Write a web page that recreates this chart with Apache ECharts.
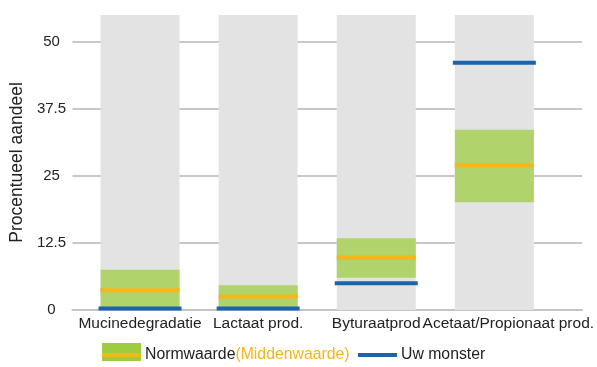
<!DOCTYPE html>
<html>
<head>
<meta charset="utf-8">
<script src="https://cdn.jsdelivr.net/npm/echarts@6/dist/echarts.min.js"></script>
<style>
  html, body { margin: 0; padding: 0; background: #ffffff; }
  #chart { width: 597px; height: 367px; }
</style>
</head>
<body>
<div id="chart"></div>
<script>
// Fermentation profile: reference range (norm), its midpoint, and the sample value per pathway
const categories = ['Mucinedegradatie', 'Lactaat prod.', 'Byturaatprod', 'Acetaat/Propionaat prod.'];
const normLow = [0, 0, 6, 20.1];
const normHigh = [7.5, 4.6, 13.4, 33.6];
const normMid = [3.7, 2.5, 9.8, 27];
const sampleValues = [0.3, 0.3, 5, 46.1];
const axisMax = 55;
const yInterval = 12.5;

const FONT = 'Liberation Sans, Arial, Helvetica, sans-serif';
const GRAY_BAR = '#e3e3e3';
const GREEN = '#b0d36b';
const ORANGE = '#f4b619';
const BLUE = '#1a64ad';

const backgroundCols = categories.map(() => axisMax);
const normSpan = normHigh.map((h, i) => +(h - normLow[i]).toFixed(2));

const chart = echarts.init(document.getElementById('chart'), null, { renderer: 'canvas' });

chart.setOption({
  animation: false,
  backgroundColor: '#ffffff',
  grid: [
    { left: 68, right: 15, top: 15, bottom: 57 },
    { left: 81, right: 43, top: 15, bottom: 57 }
  ],
  xAxis: [
    {
      gridIndex: 0, type: 'value', min: 0, max: 1,
      axisLine: { show: true, onZero: false, lineStyle: { color: '#c4c4c4', width: 2 } },
      axisTick: { show: false }, axisLabel: { show: false }, splitLine: { show: false }
    },
    {
      gridIndex: 1, type: 'category', data: categories.map((c, i) => i === 3
        ? { value: c, textStyle: { padding: [0, 0, 0, 28] } } : c),
      axisLine: { show: false }, axisTick: { show: false },
      axisLabel: {
        interval: 0, hideOverlap: false, margin: 6,
        fontFamily: FONT, fontSize: 15.5, color: '#222222'
      }
    }
  ],
  yAxis: [
    {
      gridIndex: 0, type: 'value', min: 0, max: axisMax, interval: yInterval,
      name: 'Procentueel aandeel', nameLocation: 'middle', nameGap: 45,
      nameTextStyle: { fontFamily: FONT, fontSize: 17.5, color: '#222222' },
      axisLine: { show: false }, axisTick: { show: false },
      axisLabel: {
        align: 'center', margin: 21, showMaxLabel: false,
        fontFamily: FONT, fontSize: 15, color: '#222222'
      },
      splitLine: { show: true, showMinLine: false, showMaxLine: false,
        lineStyle: { color: '#c8c8c8', width: 2 } }
    },
    { gridIndex: 1, type: 'value', min: 0, max: axisMax, show: false }
  ],
  series: [
    {
      name: 'achtergrond', type: 'bar', xAxisIndex: 1, yAxisIndex: 1,
      data: backgroundCols, barWidth: 79, barGap: '-100%', silent: true,
      itemStyle: { color: GRAY_BAR }
    },
    {
      name: 'normBasis', type: 'bar', stack: 'norm', xAxisIndex: 1, yAxisIndex: 1,
      data: normLow, barWidth: 79, barGap: '-100%', silent: true,
      itemStyle: { color: 'rgba(0,0,0,0)' }
    },
    {
      name: 'Normwaarde', type: 'bar', stack: 'norm', xAxisIndex: 1, yAxisIndex: 1,
      data: normSpan, barWidth: 79, barGap: '-100%', silent: true,
      itemStyle: { color: GREEN }
    },
    {
      name: 'Middenwaarde', type: 'scatter', xAxisIndex: 1, yAxisIndex: 1,
      data: normMid, symbol: 'rect', symbolSize: [79, 4], silent: true,
      itemStyle: { color: ORANGE, opacity: 1 }, z: 3
    },
    {
      name: 'Uw monster', type: 'scatter', xAxisIndex: 1, yAxisIndex: 1,
      data: sampleValues, symbol: 'rect', symbolSize: [83, 4], silent: true,
      itemStyle: { color: BLUE, opacity: 1 }, z: 4
    }
  ],
  graphic: [
    // legend: norm range swatch with midpoint stripe
    { type: 'rect', left: 102, top: 343, shape: { width: 39, height: 18 }, style: { fill: '#9fcc3e' } },
    { type: 'rect', left: 102, top: 353, shape: { width: 39, height: 4 }, style: { fill: ORANGE } },
    {
      type: 'text', left: 145, top: 347,
      style: {
        text: '{a|Normwaarde}{b|(Middenwaarde)}',
        rich: {
          a: { fontFamily: FONT, fontSize: 15.8, fill: '#222222' },
          b: { fontFamily: FONT, fontSize: 15.8, fill: ORANGE }
        }
      }
    },
    // legend: sample line
    { type: 'line', shape: { x1: 358, y1: 355, x2: 397, y2: 355 }, style: { stroke: BLUE, lineWidth: 4 } },
    {
      type: 'text', left: 401, top: 347,
      style: { text: 'Uw monster', fontFamily: FONT, fontSize: 15.8, fill: '#222222' }
    }
  ]
});
</script>
</body>
</html>
